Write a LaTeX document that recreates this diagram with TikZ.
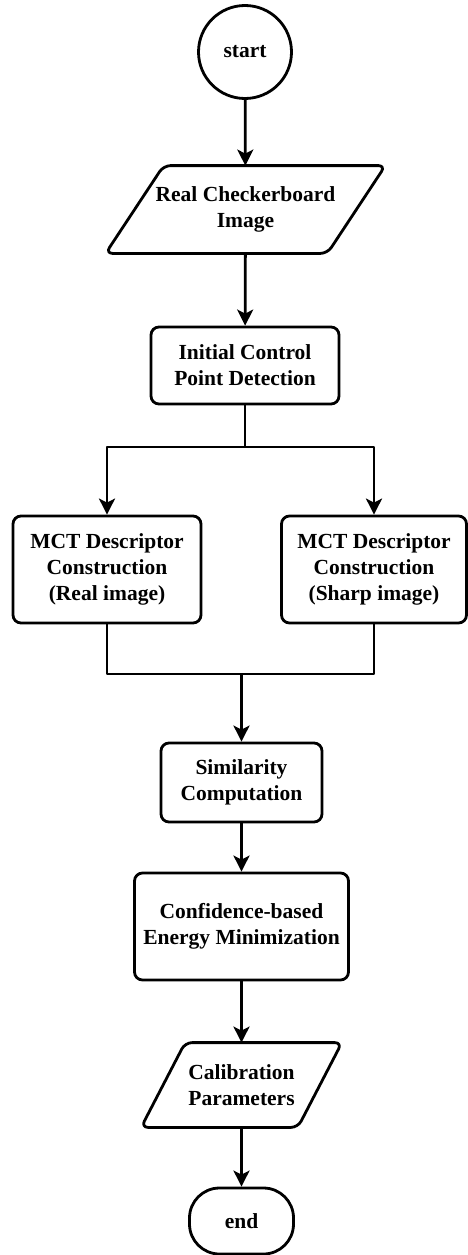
\documentclass[tikz,border=0pt]{standalone}
\usepackage{fontspec}
\setmainfont{Liberation Serif}
\usetikzlibrary{arrows.meta,calc}
\begin{document}
\begin{tikzpicture}[x=1pt,y=-1pt,line width=2.8pt,line join=round,
  lbl/.style={font=\fontsize{21.5}{26}\selectfont\bfseries,align=center,inner sep=0pt},
  rbox/.style={lbl,draw,rounded corners=8pt},
  iobox/.style={lbl},
  arr/.style={-{Stealth[length=16pt,width=16pt,inset=4pt]}},
  pline/.style={rounded corners=7pt}]
\useasboundingbox (0,0) rectangle (468,1255);
% nodes
\node[lbl,draw,circle,minimum size=93pt] (start) at (245,52) {start};
\node[iobox,minimum width=219pt,minimum height=85pt] (in1) at (245.5,209.5) {Real Checkerboard\\Image};
\node[rbox,minimum width=188pt,minimum height=77pt] (init) at (245,365.5) {Initial Control\\Point Detection};
\node[rbox,minimum width=188pt,minimum height=107pt] (mctL) at (107,569.5) {MCT Descriptor\\Construction\\(Real image)};
\node[rbox,minimum width=185pt,minimum height=107pt] (mctR) at (374,569.5) {MCT Descriptor\\Construction\\(Sharp image)};
\node[rbox,minimum width=161pt,minimum height=79pt] (sim) at (241.5,782.5) {Similarity\\Computation};
\node[rbox,minimum width=214pt,minimum height=107pt] (conf) at (241.5,926.5) {Confidence-based\\Energy Minimization};
\node[iobox,minimum width=154pt,minimum height=82pt] (out) at (241.5,1085) {Calibration\\Parameters};
\node[lbl,draw,rounded corners=30pt,minimum width=104pt,minimum height=66pt] (endn) at (241.5,1221) {end};
% parallelograms
\draw[pline] ($(in1.north west)+(29,0)$) -- ($(in1.north east)+(29,0)$) -- ($(in1.south east)+(-29,0)$) -- ($(in1.south west)+(-29,0)$) -- cycle;
\draw[pline] ($(out.north west)+(22,0)$) -- ($(out.north east)+(22,0)$) -- ($(out.south east)+(-22,0)$) -- ($(out.south west)+(-22,0)$) -- cycle;
% junctions
\coordinate (split) at (245,447);
\coordinate (merge) at (241.5,674);
% connectors
\draw[arr] (start) -- (in1);
\draw[arr] (in1) -- (init);
\draw (init.south) -- (split);
\draw[arr] (split) -| (mctL.north);
\draw[arr] (split) -| (mctR.north);
\draw (mctL.south) |- (merge);
\draw (mctR.south) |- (merge);
\draw[arr] (merge) -- (sim.north);
\draw[arr] (sim) -- (conf);
\draw[arr] (conf) -- (out);
\draw[arr] (out) -- (endn);
\end{tikzpicture}
\end{document}
